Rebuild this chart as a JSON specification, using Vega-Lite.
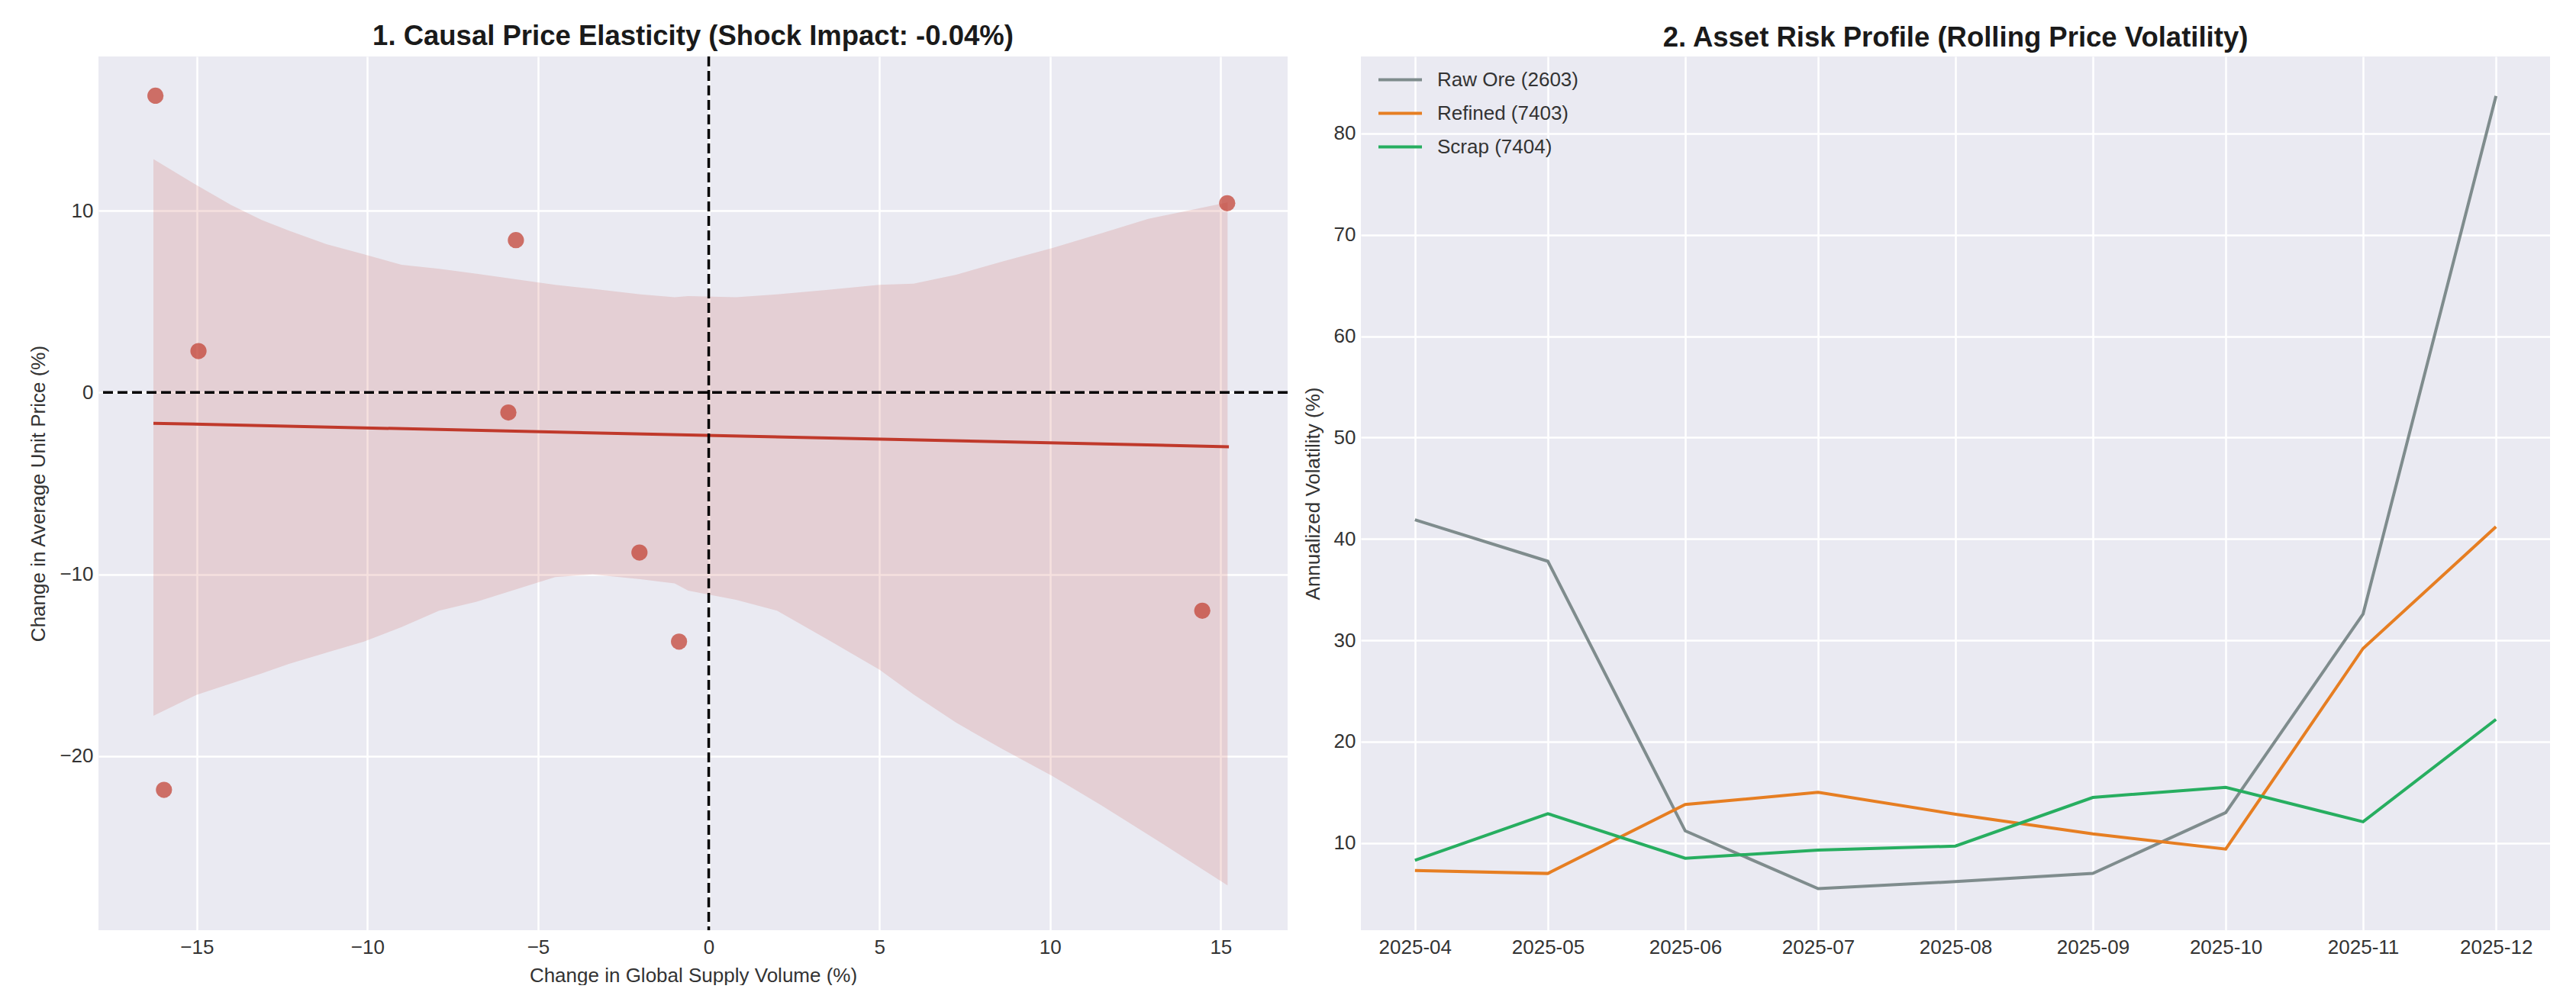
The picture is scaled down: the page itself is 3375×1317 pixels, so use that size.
{
  "$schema": "https://vega.github.io/schema/vega-lite/v6.json",
  "background": "white",
  "padding": {"left": 37, "top": 29, "right": 0, "bottom": 0},
  "spacing": 18,
  "datasets": {
    "band": [
      {"x": -16.27, "hi": 12.84, "lo": -17.78},
      {"x": -15.0, "hi": 11.4, "lo": -16.62},
      {"x": -14.0, "hi": 10.32, "lo": -16.0},
      {"x": -13.1, "hi": 9.49, "lo": -15.45},
      {"x": -12.3, "hi": 8.9, "lo": -14.92},
      {"x": -11.2, "hi": 8.16, "lo": -14.3},
      {"x": -10.1, "hi": 7.6, "lo": -13.7},
      {"x": -9.0, "hi": 7.02, "lo": -12.9},
      {"x": -7.9, "hi": 6.8, "lo": -12.0},
      {"x": -6.8, "hi": 6.53, "lo": -11.5},
      {"x": -4.5, "hi": 5.92, "lo": -10.15},
      {"x": -3.4, "hi": 5.7, "lo": -10.0},
      {"x": -2.0, "hi": 5.4, "lo": -10.27},
      {"x": -1.0, "hi": 5.24, "lo": -10.5},
      {"x": -0.6, "hi": 5.3, "lo": -10.9},
      {"x": 0.8, "hi": 5.24, "lo": -11.4},
      {"x": 2.0, "hi": 5.4, "lo": -12.0},
      {"x": 3.5, "hi": 5.65, "lo": -13.6},
      {"x": 5.0, "hi": 5.92, "lo": -15.24},
      {"x": 6.0, "hi": 5.98, "lo": -16.6},
      {"x": 7.25, "hi": 6.48, "lo": -18.16},
      {"x": 8.6, "hi": 7.2, "lo": -19.6},
      {"x": 10.07, "hi": 7.95, "lo": -21.09},
      {"x": 11.5, "hi": 8.75, "lo": -22.7},
      {"x": 12.88, "hi": 9.55, "lo": -24.32},
      {"x": 15.2, "hi": 10.45, "lo": -27.1}
    ],
    "fit": [
      {"x": -16.27, "y": -1.69},
      {"x": 15.24, "y": -2.98}
    ],
    "points": [
      {"x": -16.21, "y": 16.32},
      {"x": -14.95, "y": 2.28},
      {"x": -15.96, "y": -21.85},
      {"x": -5.65, "y": 8.38},
      {"x": -5.87, "y": -1.1},
      {"x": -2.03, "y": -8.8},
      {"x": -0.87, "y": -13.7},
      {"x": 15.19, "y": 10.41},
      {"x": 14.46, "y": -12.0}
    ],
    "ref": [{"ref": 0}],
    "vol": [
      {"date": "2025-04-01", "series": "Raw Ore (2603)", "vol": 41.9},
      {"date": "2025-05-01", "series": "Raw Ore (2603)", "vol": 37.8},
      {"date": "2025-06-01", "series": "Raw Ore (2603)", "vol": 11.2},
      {"date": "2025-07-01", "series": "Raw Ore (2603)", "vol": 5.5},
      {"date": "2025-08-01", "series": "Raw Ore (2603)", "vol": 6.2},
      {"date": "2025-09-01", "series": "Raw Ore (2603)", "vol": 7.0},
      {"date": "2025-10-01", "series": "Raw Ore (2603)", "vol": 13.0},
      {"date": "2025-11-01", "series": "Raw Ore (2603)", "vol": 32.6},
      {"date": "2025-12-01", "series": "Raw Ore (2603)", "vol": 83.7},
      {"date": "2025-04-01", "series": "Refined (7403)", "vol": 7.3},
      {"date": "2025-05-01", "series": "Refined (7403)", "vol": 7.0},
      {"date": "2025-06-01", "series": "Refined (7403)", "vol": 13.8},
      {"date": "2025-07-01", "series": "Refined (7403)", "vol": 15.0},
      {"date": "2025-08-01", "series": "Refined (7403)", "vol": 12.85},
      {"date": "2025-09-01", "series": "Refined (7403)", "vol": 10.9},
      {"date": "2025-10-01", "series": "Refined (7403)", "vol": 9.4},
      {"date": "2025-11-01", "series": "Refined (7403)", "vol": 29.2},
      {"date": "2025-12-01", "series": "Refined (7403)", "vol": 41.2},
      {"date": "2025-04-01", "series": "Scrap (7404)", "vol": 8.3},
      {"date": "2025-05-01", "series": "Scrap (7404)", "vol": 12.9},
      {"date": "2025-06-01", "series": "Scrap (7404)", "vol": 8.5},
      {"date": "2025-07-01", "series": "Scrap (7404)", "vol": 9.3},
      {"date": "2025-08-01", "series": "Scrap (7404)", "vol": 9.7},
      {"date": "2025-09-01", "series": "Scrap (7404)", "vol": 14.5},
      {"date": "2025-10-01", "series": "Scrap (7404)", "vol": 15.5},
      {"date": "2025-11-01", "series": "Scrap (7404)", "vol": 12.1},
      {"date": "2025-12-01", "series": "Scrap (7404)", "vol": 22.2}
    ]
  },
  "hconcat": [
    {
      "width": 1558,
      "height": 1145,
      "title": "1. Causal Price Elasticity (Shock Impact: -0.04%)",
      "layer": [
        {
          "data": {"name": "band"},
          "mark": {"type": "area", "color": "#c0392b", "opacity": 0.15},
          "encoding": {
            "x": {"field": "x", "type": "quantitative",
              "scale": {"domain": [-17.88, 16.96], "nice": false, "zero": false},
              "axis": {"title": "Change in Global Supply Volume (%)", "values": [-15, -10, -5, 0, 5, 10, 15], "labelExpr": "replace(datum.label, '-', '−')"}},
            "y": {"field": "hi", "type": "quantitative",
              "scale": {"domain": [-29.57, 18.48], "nice": false, "zero": false},
              "axis": {"title": "Change in Average Unit Price (%)", "values": [-20, -10, 0, 10], "labelExpr": "replace(datum.label, '-', '−')"}},
            "y2": {"field": "lo"}
          }
        },
        {
          "data": {"name": "fit"},
          "mark": {"type": "line", "color": "#c0392b", "strokeWidth": 4},
          "encoding": {
            "x": {"field": "x", "type": "quantitative", "scale": {"domain": [-17.88, 16.96], "nice": false, "zero": false}},
            "y": {"field": "y", "type": "quantitative", "scale": {"domain": [-29.57, 18.48], "nice": false, "zero": false}}
          }
        },
        {
          "data": {"name": "points"},
          "mark": {"type": "circle", "color": "#c0392b", "opacity": 0.7, "size": 450},
          "encoding": {
            "x": {"field": "x", "type": "quantitative", "scale": {"domain": [-17.88, 16.96], "nice": false, "zero": false}},
            "y": {"field": "y", "type": "quantitative", "scale": {"domain": [-29.57, 18.48], "nice": false, "zero": false}}
          }
        },
        {
          "data": {"name": "ref"},
          "mark": {"type": "rule", "color": "black", "strokeWidth": 3.5, "strokeDash": [13, 6]},
          "encoding": {
            "y": {"field": "ref", "type": "quantitative", "scale": {"domain": [-29.57, 18.48], "nice": false, "zero": false}}
          }
        },
        {
          "data": {"name": "ref"},
          "mark": {"type": "rule", "color": "black", "strokeWidth": 3.5, "strokeDash": [13, 6]},
          "encoding": {
            "x": {"field": "ref", "type": "quantitative", "scale": {"domain": [-17.88, 16.96], "nice": false, "zero": false}}
          }
        }
      ]
    },
    {
      "width": 1558,
      "height": 1145,
      "title": "2. Asset Risk Profile (Rolling Price Volatility)",
      "data": {"name": "vol"},
      "mark": {"type": "line", "strokeWidth": 4},
      "encoding": {
        "x": {"field": "date", "type": "temporal",
          "scale": {"type": "utc", "domain": [
            {"year": 2025, "month": 3, "date": 19, "hours": 19, "minutes": 12, "utc": true},
            {"year": 2025, "month": 12, "date": 13, "hours": 4, "minutes": 48, "utc": true}]},
          "axis": {"title": null, "labelExpr": "utcFormat(datum.value, '%Y-%m')",
            "values": [
              {"year": 2025, "month": 4, "date": 1, "utc": true},
              {"year": 2025, "month": 5, "date": 1, "utc": true},
              {"year": 2025, "month": 6, "date": 1, "utc": true},
              {"year": 2025, "month": 7, "date": 1, "utc": true},
              {"year": 2025, "month": 8, "date": 1, "utc": true},
              {"year": 2025, "month": 9, "date": 1, "utc": true},
              {"year": 2025, "month": 10, "date": 1, "utc": true},
              {"year": 2025, "month": 11, "date": 1, "utc": true},
              {"year": 2025, "month": 12, "date": 1, "utc": true}
            ]}},
        "y": {"field": "vol", "type": "quantitative",
          "scale": {"domain": [1.4, 87.6], "nice": false, "zero": false},
          "axis": {"title": "Annualized Volatility (%)", "values": [10, 20, 30, 40, 50, 60, 70, 80]}},
        "color": {"field": "series", "type": "nominal",
          "scale": {"domain": ["Raw Ore (2603)", "Refined (7403)", "Scrap (7404)"], "range": ["#7f8c8d", "#e67e22", "#27ae60"]},
          "legend": {"title": null, "orient": "none", "legendX": 1675, "legendY": 0, "padding": 0,
            "symbolType": "stroke", "symbolStrokeWidth": 4, "symbolSize": 3249,
            "labelFontSize": 26, "labelColor": "#333333", "labelOffset": 18, "labelLimit": 600, "rowPadding": -32}}
      }
    }
  ],
  "config": {
    "font": "Liberation Sans",
    "view": {"stroke": null, "fill": "#eaeaf2"},
    "axis": {"grid": true, "gridColor": "white", "gridWidth": 2.5, "domain": false, "ticks": false,
      "labelFontSize": 26, "labelColor": "#333333", "labelFont": "Liberation Sans",
      "titleFontSize": 26, "titleFontWeight": "normal", "titleColor": "#333333", "titleFont": "Liberation Sans",
      "labelPadding": 7, "titlePadding": 14},
    "axisX": {"labelPadding": 9, "titlePadding": 11},
    "title": {"fontSize": 36.5, "fontWeight": "bold", "font": "Liberation Sans", "color": "#1a1a1a", "anchor": "middle", "baseline": "alphabetic", "offset": 6}
  }
}
